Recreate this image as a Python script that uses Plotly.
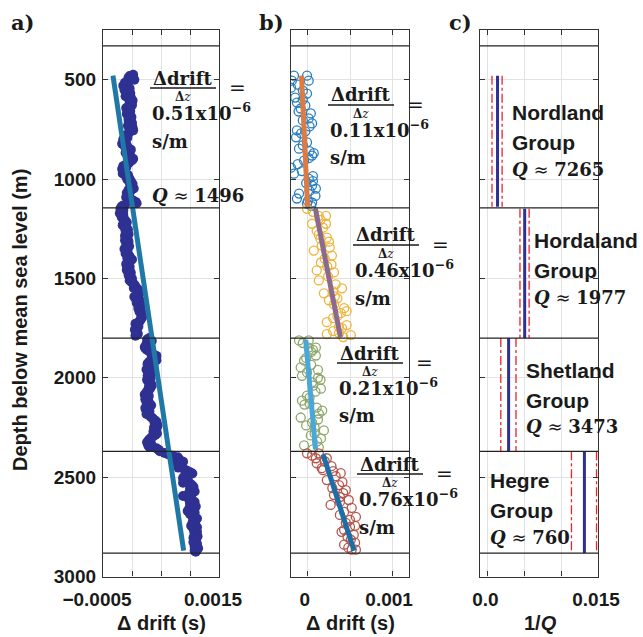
import plotly.graph_objects as go
import numpy as np

W, H = 643, 637

# ---------------- data ----------------
# Formation boundaries (m below mean sea level)
boundaries = [330, 1145, 1800, 2370, 2882]

# Panel a: drift vs depth for the whole section (drift in microseconds)
depth_a = [475, 490, 500, 515, 530, 545, 560, 575, 590, 605, 620, 635, 650, 665, 680, 695,
           710, 725, 740, 755, 770, 785, 800, 815, 830, 845, 860, 875, 890, 905, 920, 935,
           950, 965, 980, 995, 1010, 1025, 1040, 1055, 1070, 1085, 1100, 1115, 1130, 1140,
           1150, 1165, 1180, 1195, 1210, 1225, 1240, 1255, 1270, 1285, 1300, 1315, 1330,
           1345, 1360, 1375, 1390, 1405, 1420, 1435, 1450, 1465, 1480, 1495, 1510, 1525,
           1540, 1555, 1570, 1585, 1600, 1615, 1630, 1645, 1660, 1675, 1690, 1705, 1720,
           1735, 1750, 1765, 1780,
           1800, 1815, 1830, 1845, 1860, 1875, 1890, 1905, 1920, 1935, 1950, 1965, 1980,
           1995, 2010, 2025, 2040, 2055, 2070, 2085, 2100, 2115, 2130, 2145, 2160, 2175,
           2190, 2205, 2220, 2235, 2250, 2265, 2280, 2295, 2310, 2325, 2340, 2355,
           2370, 2385, 2400, 2415, 2430, 2445, 2460, 2475, 2490, 2505, 2520, 2535, 2550,
           2565, 2580, 2595, 2610, 2625, 2640, 2655, 2670, 2685, 2700, 2715, 2730, 2745,
           2760, 2775, 2790, 2805, 2820, 2835, 2850, 2865, 2875,
           482, 495, 508, 522, 538, 552, 568, 583, 598, 612, 628, 643, 657, 672, 688, 702,
           718, 732, 748, 762, 778, 792, 808, 822, 838, 852, 868, 882, 898, 912, 928, 942,
           958, 972, 988, 1002, 1018, 1032, 1048, 1062, 1078, 1092, 1108, 1122, 1135,
           1157, 1172, 1188, 1202, 1218, 1232, 1248, 1262, 1278, 1292, 1308, 1322, 1338,
           1352, 1368, 1382, 1398, 1412, 1428, 1442, 1458, 1472, 1488, 1502, 1518, 1532,
           1548, 1562, 1578, 1592, 1608, 1622, 1638, 1652, 1668, 1682, 1698, 1712, 1728,
           1742, 1758, 1772, 1788,
           1808, 1822, 1838, 1852, 1868, 1882, 1898, 1912, 1928, 1942, 1958, 1972, 1988,
           2002, 2018, 2032, 2048, 2062, 2078, 2092, 2108, 2122, 2138, 2152, 2168, 2182,
           2198, 2212, 2228, 2242, 2258, 2272, 2288, 2302, 2318, 2332, 2348, 2362,
           2378, 2392, 2408, 2422, 2438, 2452, 2468, 2482, 2498, 2512, 2528, 2542, 2558,
           2572, 2588, 2602, 2618, 2632, 2648, 2662, 2678, 2692, 2708, 2722, 2738, 2752,
           2768, 2782, 2798, 2812, 2828, 2842, 2858, 2870]
drift_a_us = [20, -60, 40, -120, -150, -40, -90, -70, -20, 10, -10, -60, -80, -50, -40, -20,
              -50, -30, 10, 20, -60, -120, -150, -130, -90, -60, -80, -40, -20, 0, -60, -150,
              -170, -120, -70, -50, -20, 10, -30, -60, -90, -60, -30, 60, -120, -180,
              -200, -190, -150, -170, -120, -140, -100, -70, -90, -120, -80, -60, -90,
              -100, -80, -110, -40, 0, -60, -90, -70, -40, -60, -20, -40, 20,
              60, 100, 140, 80, 60, 100, 130, 120, 150, 160, 180, 150, 120,
              90, 80, 70, 100,
              300, 340, 250, 220, 260, 330, 420, 380, 300, 270, 280, 300, 330,
              290, 260, 300, 340, 310, 260, 220, 250, 280, 300, 260, 240, 270,
              300, 360, 420, 430, 380, 400, 430, 360, 300, 260, 280, 420,
              480, 620, 790, 830, 780, 850, 900, 1000, 960, 880, 920, 1010, 1060,
              1040, 1000, 880, 980, 1080, 1060, 990, 960, 1000, 1060, 1100, 1080, 1020,
              1060, 1120, 1100, 1060, 1090, 1120, 1080, 1120, 1100,
              -40, 0, -80, -100, -60, -130, -30, -110, -50, -40, 0, -100, -30, -90, -10, -60,
              0, -70, -20, -40, -90, -80, -110, -170, -120, -20, -110, -60, 20, -30, -110, -100,
              -140, -160, -100, -80, -40, -10, 30, -30, -50, -100, 20, 80, -160,
              -150, -210, -180, -130, -90, -160, -120, -110, -60, -90, -120, -100, -50,
              -130, -90, -60, -80, -30, -100, -40, -90, -20, -50, 0, -10, 40,
              30, 120, 110, 40, 130, 80, 160, 110, 130, 200, 170, 140, 60,
              110, 50, 90, 60,
              260, 300, 290, 230, 300, 370, 340, 420, 270, 310, 250, 330, 270,
              320, 280, 330, 290, 280, 240, 290, 230, 250, 330, 230, 300, 250,
              330, 380, 390, 440, 420, 370, 400, 330, 280, 330, 300, 460,
              560, 700, 760, 880, 820, 800, 950, 1040, 900, 960, 880, 1040, 1000,
              1080, 960, 1020, 1040, 1000, 1100, 1040, 1080, 1030, 1120, 1050, 1090, 1120,
              1070, 1080, 1130, 1100, 1060, 1100, 1140, 1080]
slope_a = 0.51e-6          # s/m
intercept_a = -573e-6      # s
fit_a_depth = [480, 2870]
Q_a = 1496

# Panel b: drift re-referenced within each group (microseconds)
depth_nord = [480, 480, 505, 505, 540, 570, 615, 645, 670, 695, 720, 755, 790, 815, 847,
              882, 907, 943, 973, 998, 1033, 1048, 1073, 1098, 1118, 1123, 600, 760, 860, 1010,
              525, 555, 590, 630, 660, 705, 735, 770, 830, 870, 895, 925, 960, 985, 1020,
              1060, 1085, 1110, 1135]
drift_nord = [-10, -165, -190, 10, -200, -10, -130, -85, 35, 10, 50, -130, -140, -10, -105,
              50, -45, -200, -165, 10, 50, 95, -105, -130, 50, -10, -60, -30, 20, 60,
              -120, -60, -150, -30, -110, -60, 20, -80, -60, 70, 10, -120, -70, 60, -20,
              20, 90, 0, 40]
depth_hord = [1150, 1185, 1185, 1225, 1225, 1260, 1295, 1335, 1360, 1385, 1420, 1460, 1470,
              1510, 1550, 1575, 1610, 1650, 1675, 1720, 1750, 1775, 1785, 1745, 1780, 1300,
              1440, 1590, 1700,
              1165, 1205, 1245, 1280, 1315, 1345, 1400, 1430, 1490, 1530, 1565, 1600, 1630,
              1665, 1690, 1735, 1765, 1795]
drift_hord = [-10, 130, 215, 50, 215, 105, 225, 165, 70, 285, 155, 105, 310, 130, 405, 190,
              250, 430, 390, 225, 405, 370, 510, 370, 225, 150, 230, 320, 300,
              60, 150, 180, 130, 250, 260, 200, 280, 240, 330, 300, 350, 310,
              460, 350, 460, 300, 420]
depth_shet = [1812, 1812, 1848, 1848, 1888, 1913, 1948, 1973, 2023, 2055, 2090, 2115, 2150,
              2180, 2200, 2225, 2265, 2290, 2305, 2340, 2350, 1870, 2000, 2130, 2250,
              1825, 1860, 1900, 1935, 1960, 1990, 2010, 2040, 2070, 2100, 2135, 2165, 2210,
              2240, 2280, 2320, 2360]
drift_shet = [-105, 10, 10, 95, 95, -45, -85, -10, 50, 155, -10, -70, 105, 130, -85, 50,
              190, 35, 155, -45, 130, 40, 120, 20, 80,
              -60, 60, -20, 40, 120, -70, 150, 60, 90, 20, -40, 170, 120,
              -20, 80, 110, 60]
depth_hegr = [2380, 2380, 2405, 2405, 2430, 2455, 2480, 2515, 2540, 2565, 2590, 2615, 2640,
              2675, 2700, 2730, 2765, 2790, 2815, 2840, 2865, 2865, 2470, 2600, 2750,
              2392, 2420, 2445, 2465, 2495, 2525, 2555, 2580, 2625, 2655, 2690, 2715, 2745,
              2775, 2800, 2830, 2855]
drift_hegr = [-10, 130, 225, 95, 105, 165, 390, 225, 370, 450, 310, 485, 270, 430, 570,
              450, 430, 545, 510, 430, 570, 520, 300, 380, 500,
              50, 200, 280, 180, 330, 410, 290, 420, 380, 520, 380, 500, 560,
              400, 470, 560, 480]

# Linear fits per group: slope (s/m), drift at the top of the fit (us), depth span
group_slopes = [0.11e-6, 0.46e-6, 0.21e-6, 0.76e-6]
fit_start_us = [-75, 90, -25, 180]
fit_top = [480, 1150, 1810, 2385]
fit_base = [1140, 1795, 2360, 2870]

# Panel c: attenuation per group
group_names = ["Nordland", "Hordaland", "Shetland", "Hegre"]
Q_groups = [7265, 1977, 3473, 760]
invq_low = [0.63e-4, 4.42e-4, 1.82e-4, 11.4e-4]
invq_high = [2.00e-4, 5.66e-4, 3.88e-4, 14.8e-4]
q_top = [480, 1150, 1800, 2370]
q_base = [1140, 1800, 2370, 2882]

# ---------------- styling ----------------
SERIF = "DejaVu Serif"
SANS = "Liberation Sans"
NAVY = "#2e3192"
scatter_cols = ["#2a7fc0", "#efb43a", "#8da869", "#b5564d"]
line_cols = ["#dd7b42", "#8b6a8d", "#4ba6da", "#1c6ea6"]

fig = go.Figure()

# panel a
fig.add_trace(go.Scatter(x=np.array(drift_a_us) * 1e-6, y=depth_a, mode="markers",
                         marker=dict(color=NAVY, size=10, line=dict(width=0)),
                         xaxis="x", yaxis="y", showlegend=False))
fz = np.array(fit_a_depth)
fig.add_trace(go.Scatter(x=slope_a * fz + intercept_a, y=fz, mode="lines",
                         line=dict(color="#1f78a6", width=5),
                         xaxis="x", yaxis="y", showlegend=False))

# panel b
b_depths = [depth_nord, depth_hord, depth_shet, depth_hegr]
b_drifts = [drift_nord, drift_hord, drift_shet, drift_hegr]
for i in range(4):
    fig.add_trace(go.Scatter(x=np.array(b_drifts[i]) * 1e-6, y=b_depths[i], mode="markers",
                             marker=dict(symbol="circle-open", color=scatter_cols[i], size=9,
                                         line=dict(width=1.3, color=scatter_cols[i])),
                             xaxis="x2", yaxis="y2", showlegend=False))
for i in range(4):
    z = np.array([fit_top[i], fit_base[i]])
    d = fit_start_us[i] * 1e-6 + group_slopes[i] * (z - fit_top[i])
    fig.add_trace(go.Scatter(x=d, y=z, mode="lines", line=dict(color=line_cols[i], width=5),
                             xaxis="x2", yaxis="y2", showlegend=False))

# panel c
for i in range(4):
    zz = [q_top[i], q_base[i]]
    for v in (invq_low[i], invq_high[i]):
        fig.add_trace(go.Scatter(x=[v, v], y=zz, mode="lines",
                                 line=dict(color="#ee2222", width=1.3, dash="dashdot"),
                                 xaxis="x3", yaxis="y3", showlegend=False))
    iq = 1.0 / Q_groups[i]
    fig.add_trace(go.Scatter(x=[iq, iq], y=zz, mode="lines",
                             line=dict(color="#2e3192", width=3),
                             xaxis="x3", yaxis="y3", showlegend=False))

# formation boundaries in every panel
shapes = []
for ax in ("x", "x2", "x3"):
    yref = {"x": "y", "x2": "y2", "x3": "y3"}[ax]
    for b in boundaries:
        shapes.append(dict(type="line", xref=f"{ax} domain", yref=yref, x0=0, x1=1,
                           y0=b, y1=b, line=dict(color="#222", width=1.3)))

# ---------------- axes ----------------
def px(x, y):
    return x / W, 1 - y / H

ydom = [1 - 576.5 / H, 1 - 30 / H]
common = dict(showline=True, linecolor="#333", linewidth=1.3, mirror="ticks",
              ticks="inside", ticklen=5, tickcolor="#333", tickwidth=1.2,
              showgrid=True, gridcolor="#e2e2e2", gridwidth=1, zeroline=False,
              automargin=False,
              tickfont=dict(family=SANS, size=19, color="#1a1a1a", weight="bold"))
yaxis_common = dict(common, range=[3000, 250], tickvals=[500, 1000, 1500, 2000, 2500, 3000],
                    domain=ydom)

layout = dict(
    width=W, height=H, margin=dict(l=0, r=0, t=0, b=0, autoexpand=False),
    paper_bgcolor="white", plot_bgcolor="white", showlegend=False,
    xaxis=dict(common, domain=[103 / W, 219 / W], range=[-0.0005, 0.0015], anchor="y",
               tickvals=[-0.0005, 0, 0.0005, 0.001, 0.0015],
               ticktext=["\u22120.0005", "", "", "", "0.0015"], ticklabelstandoff=6,
               ticklabelshift=-6),
    yaxis=dict(yaxis_common, anchor="x", ticklabelstandoff=2),
    xaxis2=dict(common, domain=[291 / W, 409 / W], range=[-0.0002, 0.0012], anchor="y2",
                tickvals=[0, 0.0005, 0.001], ticktext=["0", "", "0.001"], ticklabelstandoff=6,
                ticklabelshift=-3),
    yaxis2=dict(yaxis_common, anchor="x2", showticklabels=False),
    xaxis3=dict(common, domain=[480 / W, 598 / W], range=[-0.0001, 0.0015], anchor="y3",
                tickvals=[0, 0.0005, 0.001, 0.0015], ticktext=["0.0", "", "", "0.015"],
                ticklabelstandoff=6, ticklabelshift=-2),
    yaxis3=dict(yaxis_common, anchor="x3", showticklabels=False),
)

# ---------------- annotations ----------------
ann = []

def text(x, y, s, size, family=SERIF, xanchor="left", color="#1a1a1a", angle=0):
    xp, yp = px(x, y)
    ann.append(dict(x=xp, y=yp, xref="paper", yref="paper", text=s, showarrow=False,
                    xanchor=xanchor, yanchor="middle", textangle=angle,
                    font=dict(family=family, size=size, color=color)))

def slope_label(x0, y0, slope):
    text(x0 + 33, y0, "<b>\u0394drift</b>", 18, xanchor="center")
    shapes.append(dict(type="line", xref="paper", yref="paper",
                       x0=x0 / W, x1=(x0 + 66) / W, y0=1 - (y0 + 10) / H, y1=1 - (y0 + 10) / H,
                       line=dict(color="#1a1a1a", width=1.3)))
    text(x0 + 33, y0 + 19, "<b>\u0394</b><i>z</i>", 12, xanchor="center")
    text(x0 + 77, y0 + 10, "=", 20)
    text(x0, y0 + 34, f"<b>{slope * 1e6:.2f}x10<sup>\u22126</sup></b>", 18)
    text(x0, y0 + 63, "<b>s/m</b>", 18)

def q_label(q):
    return f"<b><i>Q</i></b> \u2248 <b>{q}</b>"

# panel labels
text(23, 22, "<b>a)</b>", 21, xanchor="center")
text(271, 22, "<b>b)</b>", 21, xanchor="center")
text(460, 22, "<b>c)</b>", 21, xanchor="center")

# panel a
slope_label(150, 78, slope_a)
text(150, 195, q_label(Q_a), 18)

# panel b
for (x0, y0), s in zip([(328, 95), (353, 235), (337, 353), (357, 464)], group_slopes):
    slope_label(x0, y0, s)

# panel c
for (x0, y0), name, q in zip([(510, 112), (532, 240), (524, 370), (488, 480)],
                             group_names, Q_groups):
    text(x0, y0, f"<b>{name}</b>", 21, family=SANS)
    text(x0, y0 + 30, "<b>Group</b>", 21, family=SANS)
    text(x0, y0 + 57, q_label(q), 18)

# axis titles
text(20, 320, "<b>Depth below mean sea level (m)</b>", 20, family=SANS, xanchor="center",
     angle=-90)
text(161, 623, "<b>\u0394 drift (s)</b>", 20, family=SANS, xanchor="center")
text(350, 623, "<b>\u0394 drift (s)</b>", 20, family=SANS, xanchor="center")
text(540, 623, "<b>1/<i>Q</i></b>", 20, family=SANS, xanchor="center")

layout["annotations"] = ann
layout["shapes"] = shapes
fig.update_layout(**layout)
fig.write_html("out.html")
